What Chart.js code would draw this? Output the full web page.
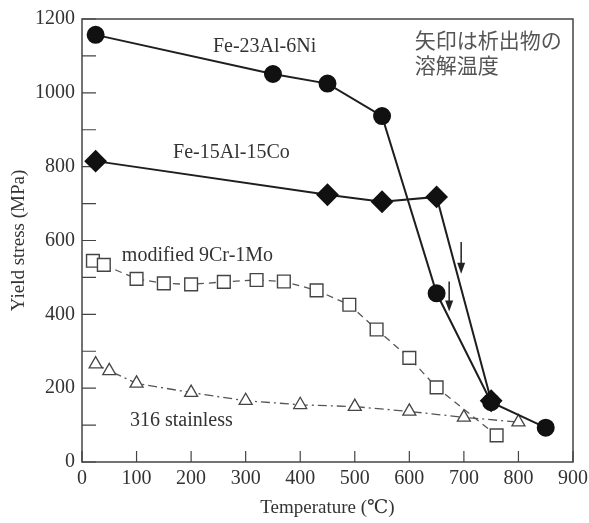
<!DOCTYPE html>
<html>
<head>
<meta charset="utf-8">
<script src="https://cdn.jsdelivr.net/npm/chart.js@4.4.1/dist/chart.umd.min.js"></script>
<style>
  html, body { margin: 0; padding: 0; background: #fff; }
  #wrap { width: 589px; height: 523px; }
</style>
</head>
<body>
<div id="wrap"><canvas id="chart"></canvas></div>
<script>
// Yield stress vs temperature
const feNiTemp = [25, 350, 450, 550, 650, 750, 850];
const feNiStress = [1157, 1051, 1025, 937, 457, 162, 93];
const feCoTemp = [25, 450, 550, 650, 750];
const feCoStress = [815, 724, 705, 718, 166];
const crMoTemp = [20, 40, 100, 150, 200, 260, 320, 370, 430, 490, 540, 600, 650, 760];
const crMoStress = [545, 534, 496, 484, 481, 488, 493, 489, 465, 426, 359, 282, 202, 72];
const ssTemp = [25, 50, 100, 200, 300, 400, 500, 600, 700, 800];
const ssStress = [265, 247, 213, 188, 166, 155, 150, 137, 121, 108];

const xTickValues = [0, 100, 200, 300, 400, 500, 600, 700, 800, 900];
const yTickValues = [0, 100, 200, 300, 400, 500, 600, 700, 800, 900, 1000, 1100, 1200];

// labels in the plot (text, temperature at left edge, stress at middle)
const noteText = ['Fe-23Al-6Ni', 'Fe-15Al-15Co', 'modified 9Cr-1Mo', '316 stainless', '矢印は析出物の', '溶解温度'];
const noteTemp = [240, 167, 73, 88, 610, 610];
const noteStress = [1126, 838, 558, 112, 1142, 1075];

// arrows marking the dissolution temperature of precipitates
const arrowTemp = [695, 673];
const arrowTop = [596, 489];
const arrowTip = [510, 408];

const serif = '"Liberation Serif", "DejaVu Serif", serif';
const textColor = '#333';

const toXY = (xs, ys) => xs.map((x, i) => ({ x: x, y: ys[i] }));

const framePlugin = {
    id: 'frame',
    beforeDatasetsDraw(chart) {
        const { ctx, chartArea: a, scales: { x, y } } = chart;
        ctx.save();
        ctx.strokeStyle = '#444';
        ctx.lineWidth = 1.5;
        ctx.strokeRect(a.left, a.top, a.width, a.height);
        ctx.lineWidth = 1.2;
        ctx.beginPath();
        xTickValues.forEach(v => {
            const px = x.getPixelForValue(v);
            ctx.moveTo(px, a.bottom);
            ctx.lineTo(px, a.bottom - 11);
        });
        yTickValues.forEach(v => {
            const py = y.getPixelForValue(v);
            ctx.moveTo(a.left, py);
            ctx.lineTo(a.left + 14, py);
        });
        ctx.stroke();
        ctx.restore();
    },
    afterDatasetsDraw(chart) {
        const { ctx, scales: { x, y } } = chart;
        ctx.save();
        ctx.textBaseline = 'middle';
        ctx.textAlign = 'left';
        noteText.forEach((t, i) => {
            const cjk = i >= 4;
            ctx.font = cjk ? '21px "Noto Sans CJK JP"' : '20px ' + serif;
            ctx.fillStyle = cjk ? '#555' : textColor;
            ctx.fillText(t, x.getPixelForValue(noteTemp[i]), y.getPixelForValue(noteStress[i]));
        });
        // arrows
        ctx.strokeStyle = '#222';
        ctx.fillStyle = '#222';
        ctx.lineWidth = 1.5;
        arrowTemp.forEach((t, i) => {
            const px = x.getPixelForValue(t);
            const top = y.getPixelForValue(arrowTop[i]);
            const tip = y.getPixelForValue(arrowTip[i]);
            ctx.beginPath();
            ctx.moveTo(px, top);
            ctx.lineTo(px, tip - 6);
            ctx.stroke();
            ctx.beginPath();
            ctx.moveTo(px, tip);
            ctx.lineTo(px - 4, tip - 11);
            ctx.lineTo(px + 4, tip - 11);
            ctx.closePath();
            ctx.fill();
        });
        ctx.restore();
    }
};

new Chart(document.getElementById('chart'), {
    type: 'scatter',
    data: {
        datasets: [{
            label: 'Fe-23Al-6Ni',
            data: toXY(feNiTemp, feNiStress),
            showLine: true,
            borderColor: '#1e1e1e',
            borderWidth: 2,
            pointStyle: 'circle',
            pointRadius: 8,
            pointBackgroundColor: '#111',
            pointBorderColor: '#111'
        }, {
            label: 'Fe-15Al-15Co',
            data: toXY(feCoTemp, feCoStress),
            showLine: true,
            borderColor: '#1e1e1e',
            borderWidth: 2,
            pointStyle: 'rectRot',
            pointRadius: 10,
            pointBackgroundColor: '#111',
            pointBorderColor: '#111'
        }, {
            label: 'modified 9Cr-1Mo',
            data: toXY(crMoTemp, crMoStress),
            showLine: true,
            borderColor: '#555',
            borderWidth: 1.3,
            borderDash: [7, 5],
            pointStyle: 'rect',
            pointRadius: 9,
            pointBorderWidth: 1.4,
            pointBackgroundColor: '#fff',
            pointBorderColor: '#444'
        }, {
            label: '316 stainless',
            data: toXY(ssTemp, ssStress),
            showLine: true,
            borderColor: '#555',
            borderWidth: 1.3,
            borderDash: [9, 4, 2, 4],
            pointStyle: 'triangle',
            pointRadius: 7.5,
            pointBorderWidth: 1.3,
            pointBackgroundColor: '#fff',
            pointBorderColor: '#444'
        }]
    },
    options: {
        responsive: true,
        maintainAspectRatio: false,
        animation: false,
        events: [],
        layout: { padding: { top: 15, right: 16, left: 0, bottom: 0 } },
        plugins: {
            legend: { display: false },
            tooltip: { enabled: false }
        },
        scales: {
            x: {
                type: 'linear',
                min: 0,
                max: 900,
                afterBuildTicks: s => { s.ticks = xTickValues.map(v => ({ value: v })); },
                afterFit: s => { s.height = 61; s.paddingRight = 16; },
                grid: { display: false, drawTicks: false },
                border: { display: false },
                ticks: { color: textColor, font: { family: serif, size: 20 }, padding: 5, maxRotation: 0 },
                title: {
                    display: true,
                    text: 'Temperature (℃)',
                    color: textColor,
                    font: { family: serif, size: 19 },
                    padding: { top: 0, bottom: 4 }
                }
            },
            y: {
                min: 0,
                max: 1200,
                afterBuildTicks: s => { s.ticks = yTickValues.map(v => ({ value: v })); },
                afterFit: s => { s.width = 82; },
                grid: { display: false, drawTicks: false },
                border: { display: false },
                ticks: {
                    color: textColor,
                    font: { family: serif, size: 20 },
                    padding: 7,
                    callback: v => (v % 200 === 0 ? v : '')
                },
                title: {
                    display: true,
                    text: 'Yield stress (MPa)',
                    color: textColor,
                    font: { family: serif, size: 19 },
                    padding: { top: 8, bottom: 0 }
                }
            }
        }
    },
    plugins: [framePlugin]
});
</script>
</body>
</html>
